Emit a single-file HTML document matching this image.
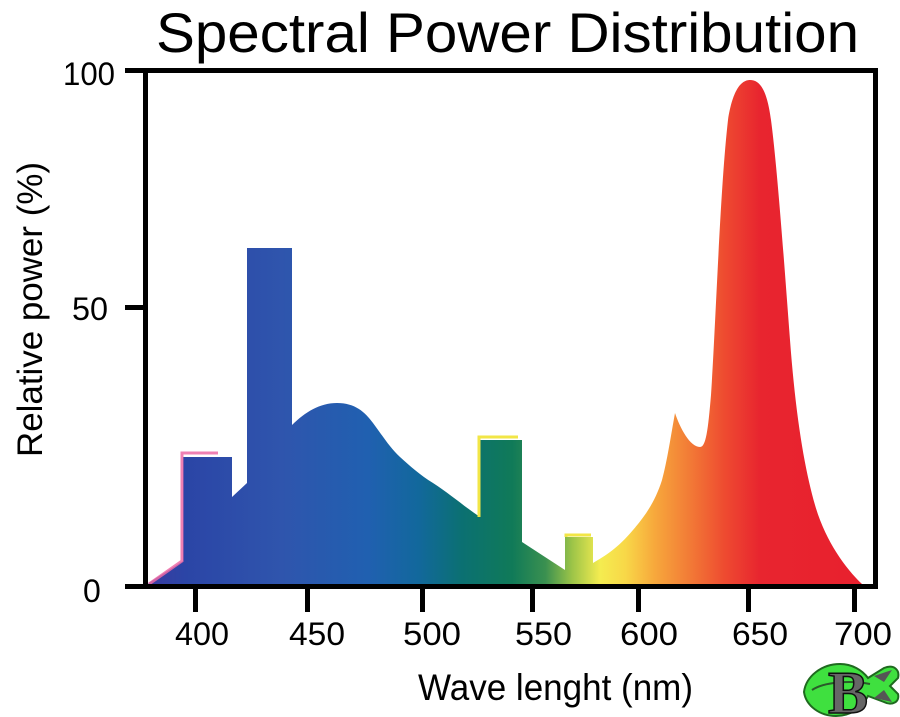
<!DOCTYPE html>
<html>
<head>
<meta charset="utf-8">
<style>
html,body{margin:0;padding:0;background:#fff;}
svg{display:block;}
</style>
</head>
<body>
<svg width="900" height="717" viewBox="0 0 900 717" xmlns="http://www.w3.org/2000/svg">
<defs>
<linearGradient id="spec" gradientUnits="userSpaceOnUse" x1="145" y1="0" x2="865" y2="0">
<stop offset="0" stop-color="#3a3aa0"/>
<stop offset="0.056" stop-color="#2b45a6"/>
<stop offset="0.19" stop-color="#2f55ad"/>
<stop offset="0.31" stop-color="#2060b0"/>
<stop offset="0.38" stop-color="#12689c"/>
<stop offset="0.44" stop-color="#0b7072"/>
<stop offset="0.51" stop-color="#107a58"/>
<stop offset="0.556" stop-color="#3a9050"/>
<stop offset="0.593" stop-color="#9cc448"/>
<stop offset="0.632" stop-color="#f4ec50"/>
<stop offset="0.667" stop-color="#f8d848"/>
<stop offset="0.708" stop-color="#f7a83c"/>
<stop offset="0.757" stop-color="#f27a36"/>
<stop offset="0.806" stop-color="#ee4a30"/>
<stop offset="0.854" stop-color="#e8252f"/>
<stop offset="1" stop-color="#e8202e"/>
</linearGradient>
</defs>

<!-- Title -->
<text x="156" y="52" font-family="Liberation Sans, sans-serif" font-size="56" fill="#000" textLength="703" lengthAdjust="spacingAndGlyphs">Spectral Power Distribution</text>

<!-- Spectrum fill -->
<path fill="url(#spec)" d="
M148,584 L150,582 L183,561 L183,457 L232,457 L232,497 L247,483 L247,248 L292,248 L292,425
C305,412 320,403 337,403
C355,403 365,412 373,423
C382,435 390,448 400,457
C410,466 420,475 433,483
C450,494 465,507 480,517
L480,440 L522,440 L522,542 L565,570 L565,537 L593,537 L593,563
C605,556 618,548 633,530
C645,516 655,502 662,480
C667,462 671,435 675,413
C680,428 690,447 700,447
C706,447 708,430 711,395
C716,320 720,190 728,120
C733,88 742,80 750,80
C760,80 767,90 771,120
C777,165 784,260 790,340
C796,420 805,470 815,505
C825,540 845,568 862,584 Z"/>

<!-- pink edges -->
<path d="M149,584 L182,561 L182,453 L218,453" fill="none" stroke="#ec6aa6" stroke-width="3" opacity="0.85"/>
<!-- yellow edges -->
<path d="M479,517 L479,437 L518,437" fill="none" stroke="#f2e646" stroke-width="3"/>
<path d="M566,537 L566,535 L591,535" fill="none" stroke="#f2e646" stroke-width="3"/>

<!-- Axes box -->
<rect x="143" y="69" width="5" height="520" fill="#000"/>
<rect x="873" y="69" width="5" height="520" fill="#000"/>
<rect x="125" y="68" width="753" height="5" fill="#000"/>
<rect x="125" y="584" width="753" height="5" fill="#000"/>
<!-- y tick at 50 -->
<rect x="125" y="305" width="20" height="5" fill="#000"/>

<!-- x ticks -->
<g fill="#000">
<rect x="193" y="586" width="5" height="26"/>
<rect x="305" y="586" width="5" height="26"/>
<rect x="420" y="586" width="5" height="26"/>
<rect x="530" y="586" width="5" height="26"/>
<rect x="636" y="586" width="5" height="26"/>
<rect x="746" y="586" width="5" height="26"/>
<rect x="852" y="586" width="5" height="26"/>
</g>

<!-- x tick labels -->
<g font-family="Liberation Sans, sans-serif" font-size="32" fill="#000">
<text x="175" y="645" textLength="54" lengthAdjust="spacingAndGlyphs">400</text>
<text x="289" y="645" textLength="56" lengthAdjust="spacingAndGlyphs">450</text>
<text x="403" y="645" textLength="58" lengthAdjust="spacingAndGlyphs">500</text>
<text x="515" y="645" textLength="57" lengthAdjust="spacingAndGlyphs">550</text>
<text x="620" y="645" textLength="58" lengthAdjust="spacingAndGlyphs">600</text>
<text x="732" y="645" textLength="56" lengthAdjust="spacingAndGlyphs">650</text>
<text x="834" y="645" textLength="58" lengthAdjust="spacingAndGlyphs">700</text>
</g>

<!-- y tick labels -->
<g font-family="Liberation Sans, sans-serif" font-size="32" fill="#000">
<text x="63" y="85" textLength="52" lengthAdjust="spacingAndGlyphs">100</text>
<text x="72" y="320" textLength="36" lengthAdjust="spacingAndGlyphs">50</text>
<text x="83" y="602">0</text>
</g>

<!-- axis titles -->
<text x="418" y="700" font-family="Liberation Sans, sans-serif" font-size="37" fill="#000" textLength="275" lengthAdjust="spacingAndGlyphs">Wave lenght (nm)</text>
<text transform="translate(42,457) rotate(-90)" x="0" y="0" font-family="Liberation Sans, sans-serif" font-size="35" fill="#000" textLength="295" lengthAdjust="spacingAndGlyphs">Relative power (%)</text>

<!-- logo -->
<g>
<path d="M804,692 C806,676 822,664 840,664 C852,664 862,670 868,678 L884,668 C894,664 900,670 898,678 L890,686 L898,694 C900,702 892,706 884,702 L868,696 C862,708 850,716 836,716 C820,716 806,706 804,692 Z" fill="#3fe03f" stroke="#1f6a1f" stroke-width="2"/>
<path d="M812,690 C824,682 850,680 870,684" fill="none" stroke="#2a5a2a" stroke-width="2"/>
<path d="M874,676 L892,670 L884,682 Z M874,698 L892,702 L884,690 Z" fill="#555"/>
<text x="828" y="713" font-family="Liberation Serif, serif" font-weight="bold" font-size="60" fill="#666" stroke="#111" stroke-width="1.5">B</text>
</g>
</svg>
</body>
</html>
